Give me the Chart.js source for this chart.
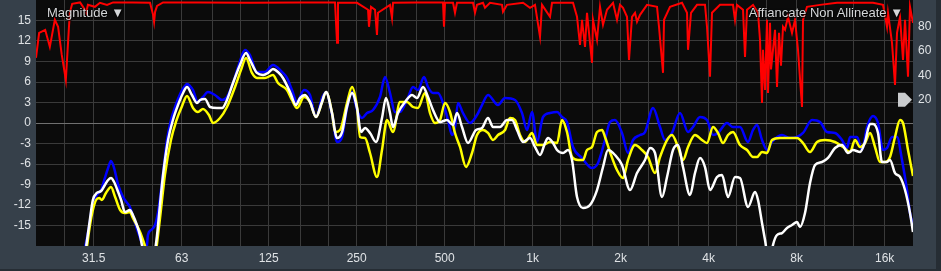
<!DOCTYPE html>
<html><head><meta charset="utf-8">
<script src="https://cdn.jsdelivr.net/npm/chart.js@4.4.1/dist/chart.umd.min.js"></script>
<style>
html,body{margin:0;padding:0;background:#262d34;}
#wrap{position:relative;width:941px;height:271px;}
canvas{display:block;}
.lbl{position:absolute;top:5px;font:13px "Liberation Sans",Arial,sans-serif;color:#d4d6d8;text-shadow:0 0 2px #000,1px 1px 1px #000;white-space:nowrap;}
</style></head>
<body>
<div id="wrap"><canvas id="c" width="941" height="271"></canvas>
<div class="lbl" style="left:47px">Magnitude ▼</div>
<div class="lbl" style="right:38px">Affiancate Non Allineate ▼</div>
</div>
<script>
// ---- axis ticks ----
const freqTicks = [25,31.5,40,50,63,80,100,125,160,200,250,315,400,500,630,800,1000,1250,1600,2000,2500,3150,4000,5000,6300,8000,10000,12500,16000];
const freqLabels = {31.5:'31.5',63:'63',125:'125',250:'250',500:'500',1000:'1k',2000:'2k',4000:'4k',8000:'8k',16000:'16k'};
const dbTicks = [-15,-12,-9,-6,-3,0,3,6,9,12,15];
const cohTicks = [20,40,60,80];

// ---- blue series ----
const blueFreq = [29.2,30.4,31.3,32.3,33.4,34.4,35.3,36.1,37.0,38.2,39.7,41.0,41.9,43.6,45.4,46.5,47.2,47.9,48.3,49.5,51.1,52.3,54.4,56.1,57.9,59.8,62.2,64.2,65.7,67.3,68.9,71.6,74.5,77.5,81.9,86.6,90.0,94.4,99.0,103.7,107.9,114.0,121.4,129.3,138.9,144.4,150.2,156.3,165.1,173.1,181.5,190.3,196.4,205.9,214.2,222.8,231.7,241.0,250.7,260.8,271.2,284.4,300.4,312.5,325.1,338.1,351.7,371.7,389.7,405.3,425.0,438.5,456.2,474.5,493.5,513.3,529.8,542.4,555.4,577.7,610.4,645.1,671.0,703.5,761.1,804.3,870.3,919.5,956.5,994.9,1034.8,1084.9,1146.4,1211.3,1260,1310.6,1374.1,1475.1,1595.9,1673.2,1767.8,1838.9,1912.8,2021.1,2119.1,2204.2,2329.3,2422.5,2580.2,2726.7,2836.2,2996.7,3191.9,3399.6,3535.7,3736.2,3947.9,4138.9,4305.1,4621.8,4845.1,5120,5453.3,5672.4,5854.1,6088.9,6333.4,6587.6,7128.1,7591.1,8021.8,8409.5,9027.2,9614.3,10160,10821,11435,11893,12178,12868,13386,13924,14597,15182,15792,16297,16952,17633,18342,19077,19534,20000];
const blueDb = [-19,-15.07,-11.71,-10.54,-9.81,-8.05,-6.59,-5.56,-6.59,-9.07,-10.83,-11.71,-12.29,-14.63,-16.83,-18.15,-18.6,-18.0,-16.39,-15.66,-14.93,-13.03,-7.32,-2.49,0.44,2.34,4.24,5.27,5.71,5.41,4.83,3.07,3.81,4.54,4.10,3.37,3.81,5.85,8.63,10.68,9.95,7.46,7.46,8.49,7.46,6.59,4.83,3.07,4.83,4.10,0.88,3.66,4.54,1.17,-2.78,-2.05,2.20,4.54,1.90,0.73,1.46,1.90,3.81,6.73,4.39,1.61,1.61,3.37,5.27,4.83,6.73,5.27,4.39,4.39,2.93,0.44,-1.76,-0.59,2.93,1.46,0,1.17,2.63,4.10,2.63,3.66,3.37,1.46,-1.02,1.61,-2.78,0.88,1.46,1.61,0.88,0.15,-3.51,-5.12,-6.59,-5.85,-2.49,0.15,0.44,-1.46,-4.39,-2.49,-1.76,-1.32,2.20,-0.59,-2.49,-1.46,1.46,-1.32,-0.59,0.88,0.44,-1.76,-1.46,0,-0.59,-0.59,-2.78,-1.02,-0.29,-2.49,-3.95,-2.78,-1.76,-2.20,-2.05,-1.46,0.44,0.15,-1.32,-1.46,-2.49,-3.66,-2.05,-2.05,-3.95,-0.59,1.02,0,-3.95,-3.66,-2.05,-2.05,-5.41,-9.81,-13.17,-14.93];

// ---- yellow series ----
const yellowFreq = [29.7,30.6,31.3,32.1,32.9,33.6,34.7,36.1,37.3,38.8,40.3,41.9,42.9,45.4,47.2,48.3,50.7,51.5,52.3,53.5,55.2,57.9,60.2,63.2,65.7,68.9,71.6,74.5,78.1,80.6,85.2,90.0,95.9,100.5,104.6,109.6,114.0,121.4,129.3,134.5,144.4,150.2,156.3,165.1,173.1,181.5,190.3,196.4,205.9,210.8,219.3,231.7,241.0,250.7,256.7,267.0,277.7,293.4,305.2,317.5,332.9,351.7,371.7,389.7,405.3,428.3,445.5,463.4,482.0,501.4,521.5,542.4,564.2,591.6,620.2,645.1,676.3,703.5,731.8,761.1,804.3,836.6,870.3,905.2,941.5,994.9,1034.8,1084.9,1146.4,1211.3,1260,1310.6,1363.3,1429.4,1486.6,1534.2,1595.9,1660,1726.7,1767.8,1838.9,1943.1,2037.2,2119.1,2239.2,2366.2,2480.6,2621.2,2726.7,2881.5,2996.7,3141.9,3268.0,3399.6,3591.8,3795.5,3947.9,4138.9,4305.1,4478.2,4658.7,4845.1,5120,5410.3,5672.4,5854.1,6088.9,6333.4,6587.6,7015.9,7472.4,8021.8,8409.5,8886.6,9390.1,10001,10821,11525,12178,12667,13176,13706,14257,14828,15423,16044,16687,17357,18054,18487,19229,20000];
const yellowDb = [-18.9,-14.93,-12.73,-11.27,-10.98,-11.27,-10.24,-9.37,-10.83,-12.73,-13.17,-13.03,-13.90,-15.95,-18.0,-19.3,-19.3,-18.59,-16.39,-12.73,-7.61,-2.49,0.15,2.49,3.95,2.20,1.61,2.05,1.17,0,0.73,2.34,5.27,7.76,9.51,7.32,6.59,6.59,7.02,5.85,4.83,3.37,2.20,3.81,3.07,0.88,3.07,4.54,1.46,-1.32,-1.02,2.93,5.27,2.34,-2.05,-2.20,-4.39,-7.90,-3.95,0.44,-1.32,3.07,3.07,2.34,2.20,4.39,1.46,0,0.44,2.93,1.61,-1.46,-3.51,-6.44,-4.39,-1.76,-1.02,-1.46,-2.49,-1.76,-1.02,0.73,0.44,-1.76,-2.78,-1.46,-3.22,-3.22,-2.78,-2.93,0.44,-1.32,-4.98,-5.41,-5.41,-3.95,-3.51,-1.32,-1.02,-2.05,-4.24,-6.88,-8.05,-5.41,-3.22,-3.95,-4.98,-7.32,-4.98,-2.49,-1.76,-3.51,-5.41,-3.51,-1.76,-2.49,-2.93,-0.59,-1.46,-2.93,-1.76,-1.32,-3.22,-3.95,-4.98,-4.98,-4.24,-4.39,-2.49,-2.20,-2.20,-2.20,-2.93,-4.24,-2.78,-2.49,-2.78,-3.51,-4.24,-2.49,-3.51,-2.93,-1.46,-3.51,-5.71,-5.71,-4.98,-2.05,0.44,0,-3.95,-7.76];

// ---- white series ----
const whiteFreq = [29.7,30.4,31.3,32.3,33.4,34.4,35.3,36.1,37.0,38.2,39.1,40.3,41.9,42.9,44.3,45.4,46.5,47.6,50.7,51.1,51.9,53.1,54.4,56.6,58.8,61.2,63.7,65.7,68.3,71.1,72.8,75.7,78.8,83.2,86.6,90.0,94.4,99.7,104.6,107.9,114.0,119.6,124.4,129.3,134.5,139.9,147.9,155.0,160,166.4,173.1,181.5,190.3,196.4,205.9,214.2,222.8,231.7,241.0,250.7,258.7,267.0,277.7,291.2,305.2,315.0,325.1,332.9,346.2,365.9,386.6,402.1,421.6,438.5,456.2,482.0,509.3,534.0,551.1,573.2,600.9,640,671.0,703.5,731.8,773.2,817.0,849.9,884.0,926.8,979.3,1018.6,1059.6,1102.2,1128.5,1173.8,1211.3,1270,1321,1363.3,1418.1,1486.6,1570.9,1660,1740.4,1810.3,1912.8,2021.1,2152.6,2274.7,2422.5,2520.1,2621.2,2769.9,2881.5,3020.6,3141.9,3268.0,3453.4,3591.8,3736.2,3886.1,4042.2,4271.4,4443.2,4658.7,4922.4,5120,5453.3,5763.1,5900.6,6088.9,6234.7,6383.7,6536.0,6639.8,6852.7,7128.1,7413.9,7711.4,8021.8,8212.8,8542.8,8886.6,9243.6,9766.9,10240,10821,11435,11987,12470,13176,13706,14257,14597,15182,15668,16297,16687,17357,18054,18780,19534,20000];
const whiteDb = [-18.0,-14.93,-11.27,-10.24,-9.95,-9.07,-8.34,-8.05,-8.63,-10.10,-11.27,-13.03,-12.73,-13.46,-14.93,-16.54,-18.59,-19.3,-19.3,-18.59,-16.39,-12.00,-7.61,-2.49,0.44,2.63,4.39,5.27,4.10,2.93,3.37,3.51,2.34,2.20,2.20,3.37,5.85,8.49,10.24,9.22,7.32,7.02,7.32,7.90,7.46,6.59,4.54,2.63,3.66,4.10,3.07,0.88,3.07,4.54,1.46,-2.20,-1.32,2.34,4.39,2.20,-1.32,-0.73,-1.46,-2.78,0.73,3.66,1.46,-0.59,1.46,3.07,4.10,3.66,5.27,3.81,1.90,0.15,0.44,-0.29,1.46,-0.59,-2.93,-1.02,-0.73,0.73,-0.59,-0.59,0.44,0.44,-1.02,-2.78,-2.20,-3.51,-4.68,-2.93,-2.20,-2.93,-3.95,-4.39,-3.95,-5.41,-10.83,-12.44,-12.00,-9.81,-6.44,-3.95,-4.68,-6.15,-9.81,-7.32,-5.41,-3.66,-4.39,-10.83,-7.90,-3.95,-3.22,-6.44,-10.54,-7.32,-5.12,-6.44,-9.81,-7.90,-7.61,-10.83,-7.90,-8.05,-12.29,-10.10,-11.27,-14.63,-17.12,-19.5,-19.5,-17.85,-16.39,-16.10,-15.37,-14.93,-14.49,-15.22,-13.17,-8.78,-6.15,-5.71,-5.12,-3.66,-3.22,-4.39,-3.95,-4.24,-2.78,-0.15,-0.15,-1.46,-5.71,-5.71,-5.41,-7.32,-7.90,-9.81,-13.17,-15.95];

// ---- red coherence series (right axis) ----
const redFreq = [20,20.5,21.5,22.3,23.2,23.8,24.5,25.3,26.1,26.6,28.3,29.4,29.7,30.1,31.8,33.1,35.0,36.7,42.9,49.1,50.3,50.7,51.1,51.9,54.4,72.8,107.9,160,210.8,214.2,215.8,250.7,273.4,275.5,279.9,288.9,293.4,295.8,325.1,330.2,332.9,402.1,493.5,497.4,501.4,534.0,542.4,551.1,625.1,635.0,645.1,676.3,687.0,714.7,785.5,791.7,817.0,926.8,979.3,1018.6,1059.6,1076.4,1146.4,1164.7,1374.1,1418.1,1451.9,1475.1,1510.3,1534.2,1595.9,1608.5,1660,1699.8,1740.4,1795.9,1883,1943.1,1989.6,2037.2,2102.4,2135.7,2186.9,2239.2,2274.7,2329.3,2461.2,2662.9,2705.2,2791.9,2814,2950.3,3242.5,3372.8,3399.6,3480.9,3649.2,3886.1,3947.9,4042.2,4106.4,4373.8,4845.1,4922.4,5000.7,5242.4,5325.8,5410.3,5672.4,5900.6,5993.4,6088.9,6136.6,6234.7,6333.4,6383.7,6485,6536,6639.8,6745.6,6852.7,6961.7,7071,7183.6,7298.5,7472.4,7711.4,7895.9,8084.4,8343.7,8409.5,8678.5,9614.3,10993,12470,14597,15792,16297,16426,16952,17357,17633,18054,18487,18780,19229,19534,20000];
const redCoh = [54.5,75.0,77.5,63.5,85.7,80.0,56.9,36.4,91.5,98.9,100,94.0,91.5,98.0,96.4,99.7,98.0,100,100,99.7,89.8,84.1,92.3,97.2,100,100,99.7,100,100,66.8,99.7,99.7,94.0,80.0,96.4,94.0,73.4,91.5,98.0,87.3,99.7,100,100,80.0,99.7,99.7,91.5,99.7,99.7,91.5,98.0,99.7,95.6,99.7,98.0,92.3,98.0,99.7,95.6,98.0,71.7,98.0,88.2,99.7,99.7,88.2,65.2,85.7,63.5,91.5,50.4,85.7,69.3,96.4,81.6,94.0,99.7,85.7,98.0,95.6,88.2,52.8,88.2,91.5,84.1,89.8,98.0,96.4,80.0,42.2,85.7,96.4,99.7,91.5,61.1,91.5,98.0,98.0,80.0,39.0,91.5,98.0,98.0,85.7,98.0,94.0,55.3,94.0,98.0,91.5,69.3,17.5,61.1,28.2,85.7,25.7,83.2,45,61.1,77.5,30.6,75,48,80,77.5,88.2,75.0,85.7,61.1,14.2,85.7,96.4,98.0,99.7,99.7,99.7,98.0,80.0,91.5,66.8,32.3,75.0,88.2,52.8,85.7,39.0,96.4,83.2];

const pts = (xs, ys) => xs.map((x, i) => ({x, y: ys[i]}));

const FONT = {family: '"Liberation Sans", Arial, sans-serif', size: 12};
const TXT = '#dfe2e5';

const bgPlugin = {
  id: 'bg',
  beforeDraw(chart) {
    const {ctx, chartArea: a} = chart;
    ctx.save();
    ctx.fillStyle = '#262d34';
    ctx.fillRect(0, 0, chart.width, chart.height);
    ctx.fillStyle = '#36404a';
    ctx.fillRect(0, 0, 936, 269);
    ctx.fillStyle = '#0b0b0b';
    ctx.fillRect(a.left, a.top, a.right - a.left, a.bottom - a.top);
    ctx.restore();
  },
  afterDraw(chart) {
    const ctx = chart.ctx;
    const ys = chart.scales.y2.getPixelForValue(20);
    ctx.save();
    ctx.fillStyle = '#c9cbcd';
    ctx.beginPath();
    ctx.moveTo(898, ys - 7);
    ctx.lineTo(905, ys - 7);
    ctx.lineTo(912, ys);
    ctx.lineTo(905, ys + 7);
    ctx.lineTo(898, ys + 7);
    ctx.closePath();
    ctx.fill();
    ctx.restore();
  }
};

const noPadV = (w) => s => { s.width = w; s.paddingTop = 0; s.paddingBottom = 0; };

new Chart(document.getElementById('c'), {
  type: 'line',
  data: {
    datasets: [
      {label: 'coh', data: pts(redFreq, redCoh), yAxisID: 'y2', borderColor: '#ff0000', borderWidth: 2, tension: 0, order: 0, clip: 0},
      {label: 'white', data: pts(whiteFreq, whiteDb), yAxisID: 'y', borderColor: '#ffffff', borderWidth: 2.5, cubicInterpolationMode: 'monotone', order: 1, clip: 0},
      {label: 'yellow', data: pts(yellowFreq, yellowDb), yAxisID: 'y', borderColor: '#ffff00', borderWidth: 2.5, cubicInterpolationMode: 'monotone', order: 2, clip: 0},
      {label: 'blue', data: pts(blueFreq, blueDb), yAxisID: 'y', borderColor: '#0000ff', borderWidth: 2.5, cubicInterpolationMode: 'monotone', order: 3, clip: 0}
    ]
  },
  options: {
    responsive: false,
    animation: false,
    events: [],
    layout: {padding: 0},
    elements: {point: {radius: 0}},
    plugins: {legend: {display: false}, tooltip: {enabled: false}},
    scales: {
      x: {
        type: 'logarithmic', min: 20, max: 20000,
        afterBuildTicks: s => { s.ticks = freqTicks.map(v => ({value: v})); },
        afterFit: s => { s.height = 25; s.paddingLeft = 0; s.paddingRight = 0; },
        grid: {color: '#3a3a3a', lineWidth: 1, drawTicks: false},
        border: {display: false},
        ticks: {autoSkip: false, maxRotation: 0, padding: 5, color: TXT, font: FONT,
          callback: v => (freqLabels[v] !== undefined ? freqLabels[v] : '')}
      },
      y: {
        type: 'linear', position: 'left', min: -18, max: 18,
        afterBuildTicks: s => { s.ticks = dbTicks.map(v => ({value: v})); },
        afterFit: noPadV(36),
        grid: {color: c => (c.tick && c.tick.value === 0 ? '#707070' : '#3a3a3a'), lineWidth: 1, drawTicks: false},
        border: {display: false},
        ticks: {padding: 5, color: TXT, font: FONT, callback: v => String(v)}
      },
      y2: {
        type: 'linear', position: 'right', min: -100, max: 102,
        afterBuildTicks: s => { s.ticks = cohTicks.map(v => ({value: v})); },
        afterFit: noPadV(28),
        grid: {display: false, drawTicks: false},
        border: {display: false},
        ticks: {padding: 5, color: TXT, font: FONT, callback: v => String(v)}
      }
    }
  },
  plugins: [bgPlugin]
});
</script>
</body></html>
